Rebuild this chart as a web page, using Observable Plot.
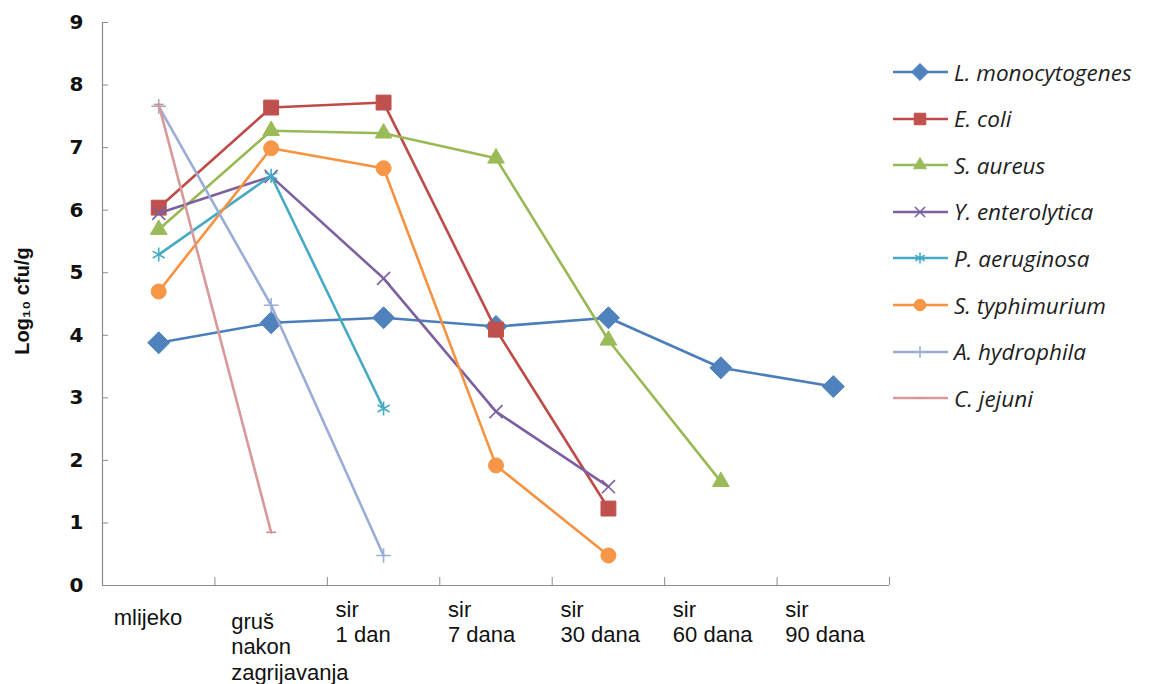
<!DOCTYPE html>
<html><head><meta charset="utf-8">
<script src="https://cdn.jsdelivr.net/npm/d3@7"></script>
<script src="https://cdn.jsdelivr.net/npm/@observablehq/plot@0.6"></script>
<style>
html,body{margin:0;padding:0;background:#fff;}
#wrap{position:relative;width:1169px;height:684px;overflow:hidden;}
#legend{position:absolute;left:890px;top:0;}
.item{position:absolute;left:0;height:30px;display:flex;align-items:center;white-space:nowrap;font-family:"Open Sans",sans-serif;font-style:italic;font-size:22.5px;color:#1e1e1e;}
.item svg{margin-right:4px;}
</style></head><body><div id="wrap"><div id="chart"></div><div id="legend"></div></div>
<script>
// ---- data ----
const categories = ["mlijeko", "gruš\nnakon\nzagrijavanja", "sir\n1 dan", "sir\n7 dana", "sir\n30 dana", "sir\n60 dana", "sir\n90 dana"];
const seriesNames = ["L. monocytogenes", "E. coli", "S. aureus", "Y. enterolytica", "P. aeruginosa", "S. typhimurium", "A. hydrophila", "C. jejuni"];
const lMonocytogenes = [3.88, 4.2, 4.28, 4.14, 4.28, 3.48, 3.18];
const eColi          = [6.04, 7.64, 7.72, 4.09, 1.23, null, null];
const sAureus        = [5.69, 7.27, 7.23, 6.83, 3.92, 1.66, null];
const yEnterolytica  = [5.95, 6.54, 4.91, 2.78, 1.58, null, null];
const pAeruginosa    = [5.29, 6.55, 2.83, null, null, null, null];
const sTyphimurium   = [4.7, 6.99, 6.67, 1.92, 0.48, null, null];
const aHydrophila    = [7.66, 4.48, 0.48, null, null, null, null];
const cJejuni        = [7.69, 0.85, null, null, null, null, null];
const yTicks = [0, 1, 2, 3, 4, 5, 6, 7, 8, 9];
const yTitle = "Log₁₀ cfu/g";

const seriesValues = [lMonocytogenes, eColi, sAureus, yEnterolytica, pAeruginosa, sTyphimurium, aHydrophila, cJejuni];

// ---- styles ----
const dash = {draw(ctx, size) { const r = Math.sqrt(size) * 0.5; ctx.moveTo(-r, 0); ctx.lineTo(r, 0); }};
const styles = [
  {line: "#4a7ebb", color: "#4f81bd", symbol: "diamond2", d3sym: d3.symbolDiamond2, r: 9.9, filled: true},
  {line: "#be4b48", color: "#c0504d", symbol: "square", d3sym: d3.symbolSquare, r: 8.4, filled: true},
  {line: "#98b954", color: "#9bbb59", symbol: "triangle", d3sym: d3.symbolTriangle, r: 6.2, filled: true},
  {line: "#7d60a0", color: "#7d60a0", symbol: "times", d3sym: d3.symbolTimes, r: 6.0, filled: false},
  {line: "#46aac5", color: "#46aac5", symbol: "asterisk", d3sym: d3.symbolAsterisk, r: 6.6, filled: false},
  {line: "#f69240", color: "#f79646", symbol: "circle", d3sym: d3.symbolCircle, r: 7.5, filled: true},
  {line: "#9aadd6", color: "#9aadd6", symbol: "plus", d3sym: d3.symbolPlus, r: 4.8, filled: false},
  {line: "#d9999a", color: "#d48f90", symbol: dash, d3sym: dash, r: 5.6, filled: false}
];

const series = seriesNames.map((name, k) => ({
  name,
  rows: seriesValues[k].map((v, i) => ({i, v})).filter(d => d.v != null),
  style: styles[k]
}));

const labelRows = categories.map((label, i) => ({i, label}));
const boundaries = categories.map((_, i) => i + 0.5);
const sans = "Liberation Sans, Arial, sans-serif";
const labelStyle = {x: "i", text: "label", frameAnchor: "bottom", textAnchor: "start", lineAnchor: "top", fontSize: 22, lineHeight: 1.16, fontFamily: sans, fill: "#111"};

const marks = [
  Plot.ruleY([0], {stroke: "#8c8c8c", strokeWidth: 1.2}),
  Plot.ruleX([-0.5], {stroke: "#8c8c8c", strokeWidth: 1.2}),
  Plot.axisY({ticks: yTicks, tickSize: -6, tickPadding: 25, stroke: "#8c8c8c", label: null,
    fontSize: 20, fontWeight: "bold", fontFamily: "DejaVu Sans, sans-serif", color: "#111"}),
  Plot.axisX({ticks: boundaries, tickSize: -8, tickFormat: () => "", stroke: "#8c8c8c", label: null}),
  Plot.text(labelRows.filter(d => d.i === 0), {...labelStyle, dx: -45, dy: 21}),
  Plot.text(labelRows.filter(d => d.i === 1), {...labelStyle, dx: -40, dy: 25}),
  Plot.text(labelRows.filter(d => d.i > 1), {...labelStyle, dx: -48, dy: 13}),
  Plot.text([yTitle], {frameAnchor: "left", textAnchor: "middle", rotate: -90, dx: -80, dy: -3, fontSize: 20, fontWeight: "bold", fontFamily: sans, fill: "#111"})
];
for (const s of series) {
  marks.push(Plot.line(s.rows, {x: "i", y: "v", stroke: s.style.line, strokeWidth: 2.6}));
  marks.push(Plot.dot(s.rows, {x: "i", y: "v", symbol: s.style.symbol, r: s.style.r,
    fill: s.style.filled ? s.style.color : "none", stroke: s.style.color,
    strokeWidth: s.style.filled ? 1 : 1.6}));
}

const chart = Plot.plot({
  width: 1169, height: 684,
  marginLeft: 102, marginRight: 280, marginTop: 22, marginBottom: 99,
  x: {type: "linear", domain: [-0.5, 6.5]},
  y: {domain: [0, 9]},
  style: {background: "#fff", overflow: "visible"},
  marks
});
document.getElementById("chart").appendChild(chart);

// ---- legend ----
const legend = document.getElementById("legend");
series.forEach((s, k) => {
  const div = document.createElement("div");
  div.className = "item";
  div.style.top = (57 + k * 46.6) + "px";
  const svg = d3.create("svg").attr("width", 60).attr("height", 24);
  svg.append("line").attr("x1", 3).attr("x2", 58).attr("y1", 12).attr("y2", 12)
    .attr("stroke", s.style.line).attr("stroke-width", 2.6);
  const size = Math.PI * s.style.r * s.style.r * 0.6;
  svg.append("path").attr("transform", "translate(30,12)")
    .attr("d", d3.symbol(s.style.d3sym, size)())
    .attr("fill", s.style.filled ? s.style.color : "none")
    .attr("stroke", s.style.color).attr("stroke-width", s.style.filled ? 1 : 1.6);
  div.appendChild(svg.node());
  const span = document.createElement("span");
  span.textContent = s.name;
  div.appendChild(span);
  legend.appendChild(div);
});
</script></body></html>
